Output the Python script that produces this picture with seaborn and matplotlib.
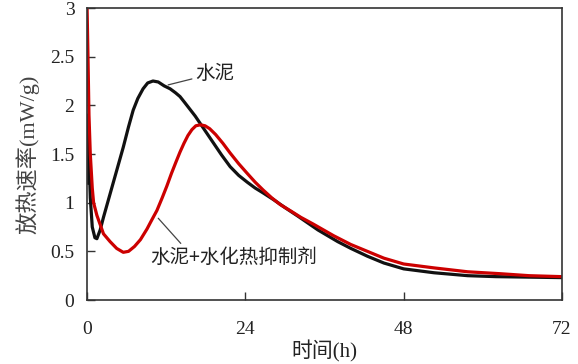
import numpy as np
import pandas as pd
import matplotlib
matplotlib.use("Agg")
import matplotlib.pyplot as plt
import seaborn as sns

# --- data ---
t_cement = [0.05, 0.15, 0.3, 0.5, 0.8, 1.2, 1.5, 2.0, 2.5, 3.5, 4.5, 5.5, 6.3, 7.0, 7.7,
            8.5, 9.2, 10.0, 10.8, 11.7, 12.6, 13.4, 14.1, 14.8, 15.6, 16.4, 17.2, 18.2,
            19.2, 20.4, 21.7, 23.0, 24.3, 25.5, 26.7, 28.3, 30.0, 32.0, 33.5, 35.0,
            36.5, 38.0, 40.0, 42.5, 45.0, 48.0, 52.6, 57.7, 62.0, 67.0, 72.0]
y_cement = [1.20, 1.90, 1.50, 1.05, 0.75, 0.64, 0.63, 0.72, 0.85, 1.09, 1.33, 1.57, 1.78, 1.95, 2.07,
            2.17, 2.23, 2.25, 2.24, 2.20, 2.17, 2.13, 2.09, 2.03, 1.96, 1.89, 1.81, 1.71,
            1.61, 1.49, 1.37, 1.28, 1.21, 1.15, 1.10, 1.03, 0.95, 0.86, 0.79, 0.72,
            0.66, 0.60, 0.53, 0.45, 0.38, 0.32, 0.28, 0.25, 0.24, 0.235, 0.23]

t_inhib = [0.0, 0.15, 0.3, 0.5, 0.8, 1.0, 1.5, 2.5, 3.5, 4.5, 5.5, 6.3, 7.2, 8.1, 9.1,
           9.8, 10.6, 11.4, 12.1, 12.8, 13.5, 14.1, 14.7, 15.3, 15.9, 16.5, 17.2, 17.9,
           18.6, 19.5, 20.6, 21.7, 23.0, 24.3, 25.5, 26.7, 28.0, 29.3, 31.0, 32.4, 34.3,
           37.4, 40.0, 42.5, 45.0, 48.0, 52.6, 57.7, 62.7, 67.0, 72.0]
y_inhib = [3.05, 2.50, 1.90, 1.50, 1.15, 1.00, 0.87, 0.68, 0.60, 0.53, 0.49, 0.50, 0.55, 0.62, 0.73,
           0.82, 0.92, 1.05, 1.17, 1.30, 1.42, 1.52, 1.61, 1.69, 1.75, 1.79, 1.80, 1.79,
           1.76, 1.70, 1.61, 1.51, 1.40, 1.30, 1.21, 1.13, 1.05, 0.98, 0.91, 0.85, 0.78,
           0.66, 0.57, 0.50, 0.43, 0.37, 0.33, 0.29, 0.27, 0.25, 0.24]

series_names = ["水泥", "水泥+水化热抑制剂"]
x_ticks = [0, 24, 48, 72]
y_ticks = [0, 0.5, 1, 1.5, 2, 2.5, 3]
y_tick_labels = ["0", "0.5", "1", "1.5", "2", "2.5", "3"]

df = pd.concat([
    pd.DataFrame({"t": t_cement, "q": y_cement, "s": series_names[0]}),
    pd.DataFrame({"t": t_inhib, "q": y_inhib, "s": series_names[1]}),
], ignore_index=True)

sns.set_theme(style="white")
plt.rcParams["font.family"] = ["Liberation Serif", "Noto Sans CJK SC", "DejaVu Sans"]

fig = plt.figure(figsize=(5.78, 3.64), dpi=100)
ax = fig.add_axes([0.1505, 0.1758, 0.8218, 0.8022])

sns.lineplot(data=df, x="t", y="q", hue="s", sort=False, estimator=None,
             palette={series_names[0]: "#111111", series_names[1]: "#cc0000"},
             linewidth=2.3, legend=False, ax=ax)
for ln in ax.lines:
    ln.set_solid_joinstyle("round")
    ln.set_solid_capstyle("round")

ax.set_xlim(0, 72)
ax.set_ylim(0, 3)
ax.set_xticks(x_ticks)
ax.set_xticklabels([str(v) for v in x_ticks])
ax.set_yticks(y_ticks)
ax.set_yticklabels(y_tick_labels)

ax.tick_params(axis="both", direction="in", length=5.5, width=1.0, color="#333333",
               labelsize=14, labelcolor="#222222")
ax.tick_params(axis="y", pad=9, left=True)
ax.tick_params(axis="x", pad=15, bottom=True)

for sp in ax.spines.values():
    sp.set_color("#333333")
    sp.set_linewidth(1.2)
    sp.set_visible(True)

cjk = ["Liberation Serif", "Noto Sans CJK SC"]
ax.set_xlabel("时间(h)", fontsize=15, family=cjk, color="#222222", labelpad=2)
ax.set_ylabel("放热速率(mW/g)", fontsize=16, family=cjk, color="#444444", labelpad=8)

ax.annotate(series_names[0], xy=(12.3, 2.21), xytext=(16.4, 2.33),
            fontsize=14, family=["Noto Sans CJK SC"], color="#222222", va="center", ha="left",
            arrowprops=dict(arrowstyle="-", color="#444444", lw=0.9, shrinkA=0, shrinkB=0))
ax.annotate(series_names[1], xy=(10.8, 0.84), xytext=(9.6, 0.44),
            fontsize=14, family=["Noto Sans CJK SC"], color="#222222", va="center", ha="left",
            arrowprops=dict(arrowstyle="-", color="#444444", lw=0.9, shrinkA=0, shrinkB=0,
                            relpos=(0.2, 1.0)))

fig.savefig("out.png", dpi=100)
